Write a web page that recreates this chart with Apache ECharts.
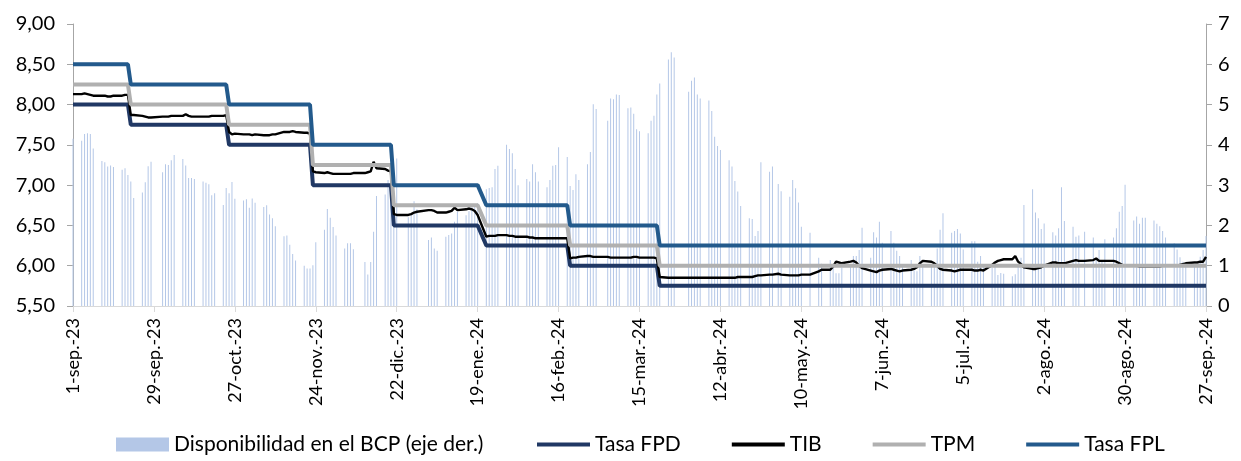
<!DOCTYPE html>
<html>
<head>
<meta charset="utf-8">
<script src="https://cdn.jsdelivr.net/npm/echarts@6/dist/echarts.min.js"></script>
<style>
  html, body { margin: 0; padding: 0; background: #ffffff; }
  #chart { width: 1241px; height: 461px; }
</style>
</head>
<body>
<div id="chart"></div>
<script>
// Calendar span of the chart (daily axis, business days only carry data)
const startDate = '2023-09-01';
const endDate = '2024-09-27';

// Date labels shown every 28 days
const tickLabels = [
  '1-sep.-23', '29-sep.-23', '27-oct.-23', '24-nov.-23', '22-dic.-23',
  '19-ene.-24', '16-feb.-24', '15-mar.-24', '12-abr.-24', '10-may.-24',
  '7-jun.-24', '5-jul.-24', '2-ago.-24', '30-ago.-24', '27-sep.-24'
];

// Disponibilidad en el BCP (right axis), one value per business day, Mon–Fri rows
const availability = [
  4.15,                               // 1-sep (vie)
  4.10, 4.27, 4.29, 4.27, 3.91,       // 4-sep
  3.60, 3.57, 3.46, 3.49, 3.45,       // 11-sep
  3.38, 3.42, 3.25, 3.09, 2.68,       // 18-sep
  2.82, 3.07, 3.47, 3.58, null,       // 25-sep
  3.32, 3.52, 3.50, 3.62, 3.75,       // 2-oct
  3.65, 3.49, 3.18, 3.18, 3.15,       // 9-oct
  3.09, 3.06, 3.02, 2.75, 2.80,       // 16-oct
  2.51, 2.93, 2.80, 3.08, 2.66,       // 23-oct
  2.62, 2.65, 2.44, 2.67, 2.56,       // 30-oct
  2.46, 2.50, 2.27, 2.18, 1.98,       // 6-nov
  1.73, 1.75, 1.52, 1.29, 1.13,       // 13-nov
  1.00, 0.93, 0.93, 1.01, 1.58,       // 20-nov
  1.89, 2.41, 2.19, 1.96, 1.75,       // 27-nov
  1.43, 1.56, 1.56, 1.41, null,       // 4-dic
  1.09, 0.78, 1.09, 1.84, 2.73,       // 11-dic
  2.77, 3.13, 2.95, 2.85, 3.66,       // 18-dic
  null, 2.20, 2.30, 2.60, 2.40,       // 25-dic
  null, 1.64, 1.70, 1.43, 1.37,       // 1-ene
  1.72, 1.76, 1.80, 2.09, 2.34,       // 8-ene
  2.25, 2.35, 2.45, 2.50, 2.55,       // 15-ene
  2.90, 2.93, 2.95, 3.40, 3.48,       // 22-ene
  4.00, 3.90, 3.79, 3.40, 3.00,       // 29-ene
  3.15, 3.09, 3.52, 3.32, 3.09,       // 5-feb
  2.95, 3.13, 3.48, 3.50, 3.94,       // 12-feb
  3.70, 2.98, 2.88, 3.27, 3.13,       // 19-feb
  3.52, 3.82, 5.01, 4.89, null,       // 26-feb
  4.60, 5.15, 5.13, 5.25, 5.24,       // 4-mar
  4.91, 4.93, 4.77, 4.39, 4.34,       // 11-mar
  4.29, 4.60, 4.72, 5.25, 5.52,       // 18-mar
  6.12, 6.30, 6.17, null, null,       // 25-mar
  5.32, 5.59, 5.67, 5.25, 5.15,       // 1-abr
  5.10, 4.84, 4.20, 3.97, 3.87,       // 8-abr
  3.62, 3.46, 3.10, 2.84, 2.48,       // 15-abr
  2.18, 2.16, 1.74, 1.86, 3.57,       // 22-abr
  3.33, 3.46, null, 3.03, 2.85,       // 29-abr
  2.71, 3.13, 2.92, 2.57, 1.97,       // 6-may
  1.82, null, null, 1.20, 1.05,       // 13-may
  1.14, 1.03, 0.81, 0.81, 0.95,       // 20-may
  0.98, 1.24, 1.24, 1.39, 1.94,       // 27-may
  1.20, 1.83, 1.70, 2.09, 1.57,       // 3-jun
  1.86, 1.57, 1.37, 1.24, 1.00,       // 10-jun
  1.14, 0.89, 0.86, 1.24, 1.00,       // 17-jun
  1.00, 1.05, 1.43, 1.89, 2.30,       // 24-jun
  1.82, 1.86, 1.91, 1.80, 1.40,       // 1-jul
  1.61, 1.61, 1.10, 1.24, 1.00,       // 8-jul
  0.95, 1.00, 0.77, 0.82, 0.80,       // 15-jul
  0.74, 0.79, 0.98, 1.20, 2.51,       // 22-jul
  2.90, 2.32, 2.18, 1.91, 2.05,       // 29-jul
  1.83, 1.75, 1.93, 2.95, 2.11,       // 5-ago
  1.97, 1.72, 1.75, null, 1.84,       // 12-ago
  1.70, 1.20, 1.39, 1.10, 1.66,       // 19-ago
  1.70, 1.93, 2.34, 2.48, 3.01,       // 26-ago
  2.12, 2.22, 2.04, 2.19, 2.19,       // 2-sep
  2.12, 2.04, 1.98, 1.86, 1.70,       // 9-sep
  1.56, 1.40, 1.21, 1.10, 1.00,       // 16-sep
  1.00, 1.02, 1.22, 1.39, 1.74        // 23-sep
];

// TIB (tasa interbancaria), one value per business day, Mon–Fri rows
const tib = [
  8.13,
  8.13, 8.14, 8.13, 8.12, 8.11,
  8.11, 8.11, 8.10, 8.10, 8.11,
  8.11, 8.12, 8.12, 7.87, 7.87,
  7.86, 7.85, 7.84, 7.84, null,
  7.85, 7.85, 7.85, 7.86, 7.86,
  7.86, 7.88, 7.86, 7.85, 7.85,
  7.85, 7.85, 7.85, 7.86, 7.86,
  7.86, 7.87, 7.66, 7.63, 7.64,
  7.63, 7.63, 7.63, 7.62, 7.63,
  7.62, 7.62, 7.62, 7.63, 7.63,
  7.66, 7.66, 7.66, 7.67, 7.66,
  7.65, 7.65, 7.64, 7.17, 7.16,
  7.15, 7.16, 7.15, 7.14, 7.14,
  7.14, 7.14, 7.14, 7.15, null,
  7.15, 7.16, 7.17, 7.29, 7.21,
  7.20, 7.18, 7.17, 6.64, 6.63,
  null, 6.63, 6.64, 6.66, 6.67,
  null, 6.69, 6.69, 6.68, 6.66,
  6.66, 6.67, 6.68, 6.72, 6.69,
  6.70, 6.71, 6.70, 6.68, 6.63,
  6.36, 6.37, 6.37, 6.37, 6.38,
  6.38, 6.37, 6.37, 6.36, 6.36,
  6.36, 6.35, 6.35, 6.34, 6.34,
  6.34, 6.34, 6.34, 6.34, 6.34,
  6.34, 6.09, 6.10, 6.10, 6.11,
  6.12, 6.12, 6.11, 6.11, null,
  6.11, 6.10, 6.10, 6.10, 6.10,
  6.10, 6.10, 6.11, 6.11, 6.10,
  6.10, 6.10, 6.10, 6.09, 5.86,
  5.85, 5.85, 5.85, null, null,
  5.85, 5.85, 5.85, 5.85, 5.85,
  5.85, 5.85, 5.85, 5.85, 5.85,
  5.85, 5.85, 5.85, 5.86, 5.86,
  5.86, 5.86, 5.87, 5.88, 5.88,
  5.89, 5.89, null, 5.90, 5.89,
  5.88, 5.88, 5.88, 5.88, 5.89,
  5.89, null, null, 5.93, 5.95,
  5.95, 5.99, 6.05, 6.04, 6.03,
  6.05, 6.06, 6.04, 6.00, 5.97,
  5.94, 5.93, 5.92, 5.94, 5.95,
  5.96, 5.95, 5.94, 5.93, 5.94,
  5.95, 5.96, 5.98, 6.03, 6.06,
  6.05, 6.03, 6.00, 5.96, 5.95,
  5.94, 5.93, 5.94, 5.95, 5.95,
  5.95, 5.94, 5.94, 5.95, 5.94,
  6.01, 6.04, 6.06, 6.07, 6.08,
  6.08, 6.12, 6.05, 6.02, 5.98,
  5.96, 5.96, 5.97, 5.98, 6.00,
  6.04, 6.04, 6.03, 6.03, 6.03,
  6.06, 6.07, 6.06, null, 6.06,
  6.07, 6.09, 6.06, 6.06, 6.06,
  6.06, 6.05, 6.03, 6.01, 6.00,
  6.00, 6.00, 5.99, 5.99, 5.99,
  5.99, 5.99, 5.99, 6.00, 6.00,
  6.00, 6.00, 6.01, 6.02, 6.03,
  6.04, 6.04, 6.05, 6.05, 6.11
];

// Policy corridor: last day at the old rate and first day at the new one
const policyDates = [
  '2023-09-01', '2023-09-20', '2023-09-21', '2023-10-24', '2023-10-25',
  '2023-11-22', '2023-11-23', '2023-12-20', '2023-12-21', '2024-01-19',
  '2024-01-22', '2024-02-19', '2024-02-20', '2024-03-21', '2024-03-22',
  '2024-09-27'
];
const tpm = [8.25, 8.25, 8.00, 8.00, 7.75, 7.75, 7.25, 7.25, 6.75, 6.75, 6.50, 6.50, 6.25, 6.25, 6.00, 6.00];
const fpd = [8.00, 8.00, 7.75, 7.75, 7.50, 7.50, 7.00, 7.00, 6.50, 6.50, 6.25, 6.25, 6.00, 6.00, 5.75, 5.75];
const fpl = [8.50, 8.50, 8.25, 8.25, 8.00, 8.00, 7.50, 7.50, 7.00, 7.00, 6.75, 6.75, 6.50, 6.50, 6.25, 6.25];

// Day offsets from the start date; the x axis is measured in days
const DAY_MS = 86400000;
const t0 = Date.parse(startDate + 'T00:00:00Z');
const dayIndex = s => Math.round((Date.parse(s + 'T00:00:00Z') - t0) / DAY_MS);
const lastDay = dayIndex(endDate);
const businessDays = [];
for (let d = 0; d <= lastDay; d++) {
  const wd = new Date(t0 + d * DAY_MS).getUTCDay();
  if (wd !== 0 && wd !== 6) businessDays.push(d);
}

const FONT = 'Lato, "Open Sans", sans-serif';
const comma2 = v => v.toFixed(2).replace('.', ',');
const legendText = { fontFamily: FONT, fontSize: 21, color: '#000000' };

const chart = echarts.init(document.getElementById('chart'), null, { renderer: 'canvas' });
chart.setOption({
  animation: false,
  backgroundColor: '#ffffff',
  grid: { left: 73, right: 35, top: 24, bottom: 155 },
  legend: [
    {
      // bar swatch
      left: 111,
      bottom: 1,
      itemWidth: 53,
      itemHeight: 14,
      icon: 'rect',
      textStyle: legendText,
      data: ['Disponibilidad en el BCP (eje der.)']
    },
    {
      // line swatches
      left: 532,
      bottom: 1,
      itemWidth: 53,
      itemHeight: 4,
      itemGap: 51,
      icon: 'rect',
      textStyle: legendText,
      data: ['Tasa FPD', 'TIB', 'TPM', 'Tasa FPL']
    }
  ],
  xAxis: {
    type: 'value',
    min: 0,
    max: lastDay,
    interval: 28,
    axisLine: { show: true, lineStyle: { color: '#d9d9d9', width: 1 } },
    axisTick: { show: true, length: 6, lineStyle: { color: '#d9d9d9' } },
    splitLine: { show: false },
    axisLabel: {
      rotate: 90,
      margin: 12,
      fontFamily: FONT,
      fontSize: 18,
      color: '#000000',
      formatter: v => tickLabels[Math.round(v / 28)] || ''
    }
  },
  yAxis: [
    {
      type: 'value',
      min: 5.5,
      max: 9,
      interval: 0.5,
      axisLine: { show: true, lineStyle: { color: '#a6a6a6' } },
      axisTick: { show: true, length: 6, lineStyle: { color: '#a6a6a6' } },
      splitLine: { show: false },
      axisLabel: { margin: 18, fontFamily: FONT, fontSize: 20, color: '#000000', formatter: comma2 }
    },
    {
      type: 'value',
      min: 0,
      max: 7,
      interval: 1,
      position: 'right',
      axisLine: { show: true, lineStyle: { color: '#a6a6a6' } },
      axisTick: { show: true, length: 6, lineStyle: { color: '#a6a6a6' } },
      splitLine: { show: false },
      axisLabel: { margin: 12, fontFamily: FONT, fontSize: 20, color: '#000000' }
    }
  ],
  series: [
    {
      name: 'Disponibilidad en el BCP (eje der.)',
      type: 'bar',
      yAxisIndex: 1,
      barWidth: 1,
      itemStyle: { color: '#b4c7e7' },
      data: businessDays.map((d, i) => [d, availability[i]])
    },
    {
      name: 'Tasa FPD',
      type: 'line',
      symbol: 'none',
      lineStyle: { color: '#203864', width: 4 },
      itemStyle: { color: '#203864' },
      data: policyDates.map((s, i) => [dayIndex(s), fpd[i]])
    },
    {
      name: 'TIB',
      type: 'line',
      symbol: 'none',
      connectNulls: true,
      lineStyle: { color: '#000000', width: 2.4 },
      itemStyle: { color: '#000000' },
      data: businessDays.map((d, i) => [d, tib[i]])
    },
    {
      name: 'TPM',
      type: 'line',
      symbol: 'none',
      lineStyle: { color: '#b0b0b0', width: 4 },
      itemStyle: { color: '#b0b0b0' },
      data: policyDates.map((s, i) => [dayIndex(s), tpm[i]])
    },
    {
      name: 'Tasa FPL',
      type: 'line',
      symbol: 'none',
      lineStyle: { color: '#235a8c', width: 4 },
      itemStyle: { color: '#235a8c' },
      data: policyDates.map((s, i) => [dayIndex(s), fpl[i]])
    }
  ]
});
</script>
</body>
</html>
